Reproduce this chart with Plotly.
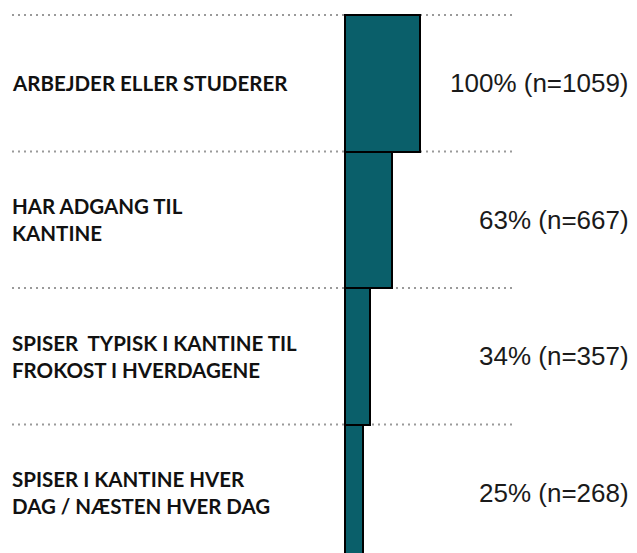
import plotly.graph_objects as go

categories = [
    "ARBEJDER ELLER STUDERER",
    "HAR ADGANG TIL<br>KANTINE",
    "SPISER  TYPISK I KANTINE TIL<br>FROKOST I HVERDAGENE",
    "SPISER I KANTINE HVER<br>DAG / NÆSTEN HVER DAG",
]
percent = [100, 63, 34, 25]
counts = [1059, 667, 357, 268]

# page has an 8px body margin; size the figure so it fills the 637x553 window
OFF = 8
W, H = 637 - OFF, 553 - OFF
rows = list(range(len(categories)))

fig = go.Figure()
fig.add_trace(go.Bar(
    y=rows, x=percent, base=0, orientation="h", width=1,
    marker=dict(color="#0A5F6A", line=dict(color="#000000", width=2)),
    hoverinfo="skip", showlegend=False,
))

for r, cat, p, n in zip(rows, categories, percent, counts):
    fig.add_annotation(x=(10 - OFF) / W, xref="paper", y=r, yref="y", text=f"<b>{cat}</b>",
                       showarrow=False, xanchor="left", yanchor="middle", align="left",
                       font=dict(family="Lato", size=20.5, color="#111111"))
    fig.add_annotation(x=(631 - OFF) / W, xref="paper", y=r, yref="y", text=f"{p}% (n={n})",
                       showarrow=False, xanchor="right", yanchor="middle", align="right",
                       font=dict(family="Liberation Sans", size=26, color="#1a1a1a"))

for b in [-0.5, 0.5, 1.5, 2.5]:
    fig.add_shape(type="line", xref="paper", yref="y", x0=(12 - OFF) / W, x1=(512 - OFF) / W, y0=b, y1=b,
                  line=dict(color="#9a9a9a", width=2, dash="2px,4px"), layer="below")

x0px = 344.5 - OFF
px_per_unit_x = (420 - 344.5) / 100
top_px = 15 - OFF
px_per_row = 136.5
fig.update_layout(
    width=W, height=H,
    margin=dict(l=0, r=0, t=0, b=0),
    paper_bgcolor="white", plot_bgcolor="white",
    xaxis=dict(range=[-x0px / px_per_unit_x, (W - x0px) / px_per_unit_x], visible=False, fixedrange=True),
    yaxis=dict(range=[-0.5 + (H - top_px) / px_per_row, -0.5 - top_px / px_per_row], visible=False, fixedrange=True),
    bargap=0,
)

fig.write_html("out.html")
